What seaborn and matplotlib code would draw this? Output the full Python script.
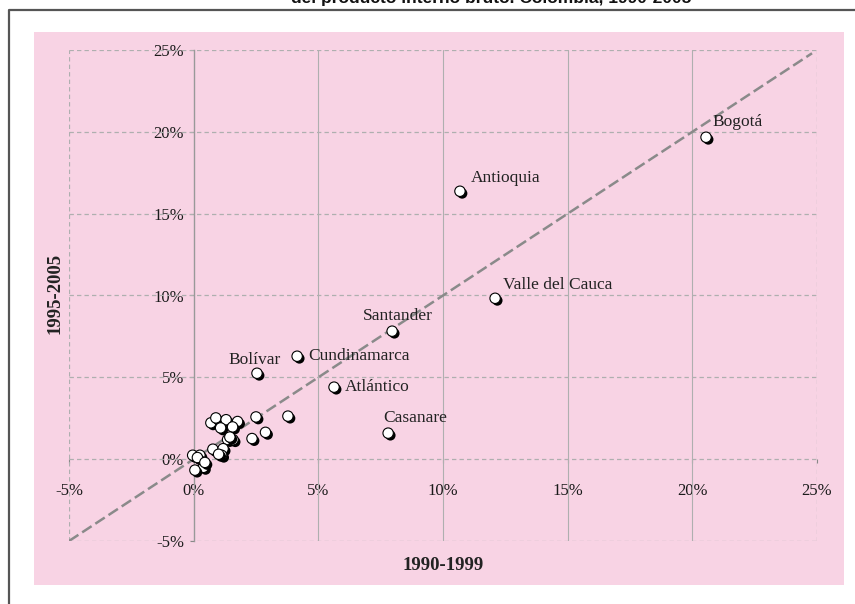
import matplotlib
matplotlib.use("Agg")
import matplotlib.pyplot as plt
import matplotlib.patheffects as pe
from matplotlib.patches import Rectangle
from matplotlib.lines import Line2D
from matplotlib.ticker import FuncFormatter
import seaborn as sns
import pandas as pd

# Participación departamental en el PIB (%), 1990-1999 vs 1995-2005
departamentos = ["Bogotá", "Antioquia", "Valle del Cauca", "Santander",
                 "Cundinamarca", "Bolívar", "Atlántico", "Casanare"]
p_1990_1999 = [20.55, 10.68, 12.09, 7.96, 4.15, 2.54, 5.63, 7.80]
p_1995_2005 = [19.67, 16.37, 9.83, 7.82, 6.29, 5.25, 4.40, 1.59]

# Resto de departamentos (sin etiqueta)
otros_1990_1999 = [0.69, 0.89, 1.30, 1.76, 1.08, 1.56, 2.50, 3.78, 2.88, 2.34,
                   1.36, 1.58, 0.77, 1.18, 1.12, -0.04, 0.25, 0.39, 0.05,
                   0.15, 1.45, 1.00, 0.45]
otros_1995_2005 = [2.22, 2.52, 2.41, 2.30, 1.91, 1.97, 2.58, 2.63, 1.64, 1.26,
                   1.20, 1.19, 0.61, 0.64, 0.24, 0.24, 0.24, -0.50, -0.67,
                   0.10, 1.35, 0.30, -0.20]

# Desplazamiento de cada etiqueta (px) y alineación horizontal
label_offsets = {"Bogotá": (6, 15, "left"), "Antioquia": (11, 13, "left"),
                 "Valle del Cauca": (8, 13, "left"), "Santander": (6, 15, "center"),
                 "Cundinamarca": (11, 0, "left"), "Bolívar": (-2, 13, "center"),
                 "Atlántico": (11, 0, "left"), "Casanare": (-5, 15, "left")}

ticks = [-5, 0, 5, 10, 15, 20, 25]

df = pd.DataFrame({
    "x": p_1990_1999 + otros_1990_1999,
    "y": p_1995_2005 + otros_1995_2005,
})

sns.set_theme(style="white")
plt.rcParams["font.family"] = ["Liberation Serif", "DejaVu Serif"]

W, H = 855, 604
fig = plt.figure(figsize=(W / 100, H / 100), dpi=100)
fig.patch.set_facecolor("white")

# fondo rosado del gráfico
fig.add_artist(Rectangle((34 / W, 1 - 585 / H), (844 - 34) / W, (585 - 32) / H,
                         transform=fig.transFigure, facecolor="#F8D3E4",
                         edgecolor="none", zorder=-5))
# marco del recuadro
fig.add_artist(Line2D([9 / W, 9 / W, 1.0], [0.0, 1 - 10 / H, 1 - 10 / H],
                      transform=fig.transFigure, color="#555555", lw=1.6,
                      zorder=-4))
# título (cortado en el borde superior)
fig.text(491 / W, 1 - 3 / H, "del producto interno bruto. Colombia, 1990-2005",
         ha="center", va="baseline", fontsize=12.5, fontweight="bold",
         family=["Liberation Sans", "DejaVu Sans"], color="#111111")

ax = fig.add_axes([69 / W, 1 - 541 / H, (817 - 69) / W, (541 - 50) / H])
ax.set_facecolor("none")
ax.set_xlim(-5, 25)
ax.set_ylim(-5, 25)

grid_c = "#AFAFAF"
dash = (0, (3.5, 2.5))
for t in ticks:
    ax.axhline(t, color=grid_c, lw=0.9, ls=dash, zorder=1)
for t in ticks:
    if t in (-5, 25):
        ax.axvline(t, color=grid_c, lw=0.9, ls=dash, zorder=1)
    elif t != 0:
        ax.axvline(t, color=grid_c, lw=0.8, ls="-", zorder=1)

# línea de 45 grados
sns.lineplot(x=[-5, 24.8], y=[-5, 24.8], ax=ax, color="#8A8A8A", lw=1.8,
             linestyle=(0, (4.5, 1.8)), zorder=2)

sns.scatterplot(data=df, x="x", y="y", ax=ax, color="white", edgecolor="black",
                linewidth=0.8, s=56, zorder=4,
                path_effects=[pe.withSimplePatchShadow(offset=(1.6, -1.6),
                                                       shadow_rgbFace="black",
                                                       alpha=1.0)])

for name, xv, yv in zip(departamentos, p_1990_1999, p_1995_2005):
    dx, dy, ha = label_offsets[name]
    ax.annotate(name, (xv, yv), xytext=(dx, dy), textcoords="offset pixels",
                ha=ha, va="center", fontsize=12.5, color="#222222", zorder=5)

# ejes que cruzan en el origen
for s in ("top", "right"):
    ax.spines[s].set_visible(False)
ax.spines["left"].set_position(("data", 0))
ax.spines["left"].set_color("#999999")
ax.spines["left"].set_linewidth(1.0)
ax.spines["left"].set_zorder(1.5)
ax.spines["bottom"].set_position(("data", 0))
ax.spines["bottom"].set_visible(False)

pct = FuncFormatter(lambda v, p: f"{v:.0f}%")
ax.set_xticks(ticks)
ax.set_yticks(ticks)
ax.xaxis.set_major_formatter(pct)
ax.yaxis.set_major_formatter(pct)
ax.tick_params(axis="both", which="both", direction="out", length=3,
               width=0.8, color="#888888", labelsize=12, labelcolor="#1a1a1a")
ax.tick_params(axis="x", pad=14, bottom=True)
ax.tick_params(axis="y", pad=4, left=True)

ax.set_xlabel("")
ax.set_ylabel("")
fig.text(443 / W, 1 - 566 / H, "1990-1999", ha="center", va="center",
         fontsize=13.5, fontweight="bold", color="#222222")
fig.text(55 / W, 1 - 293 / H, "1995-2005", ha="center", va="center",
         rotation=90, fontsize=13.5, fontweight="bold", color="#222222")

fig.savefig("out.png", dpi=100)
